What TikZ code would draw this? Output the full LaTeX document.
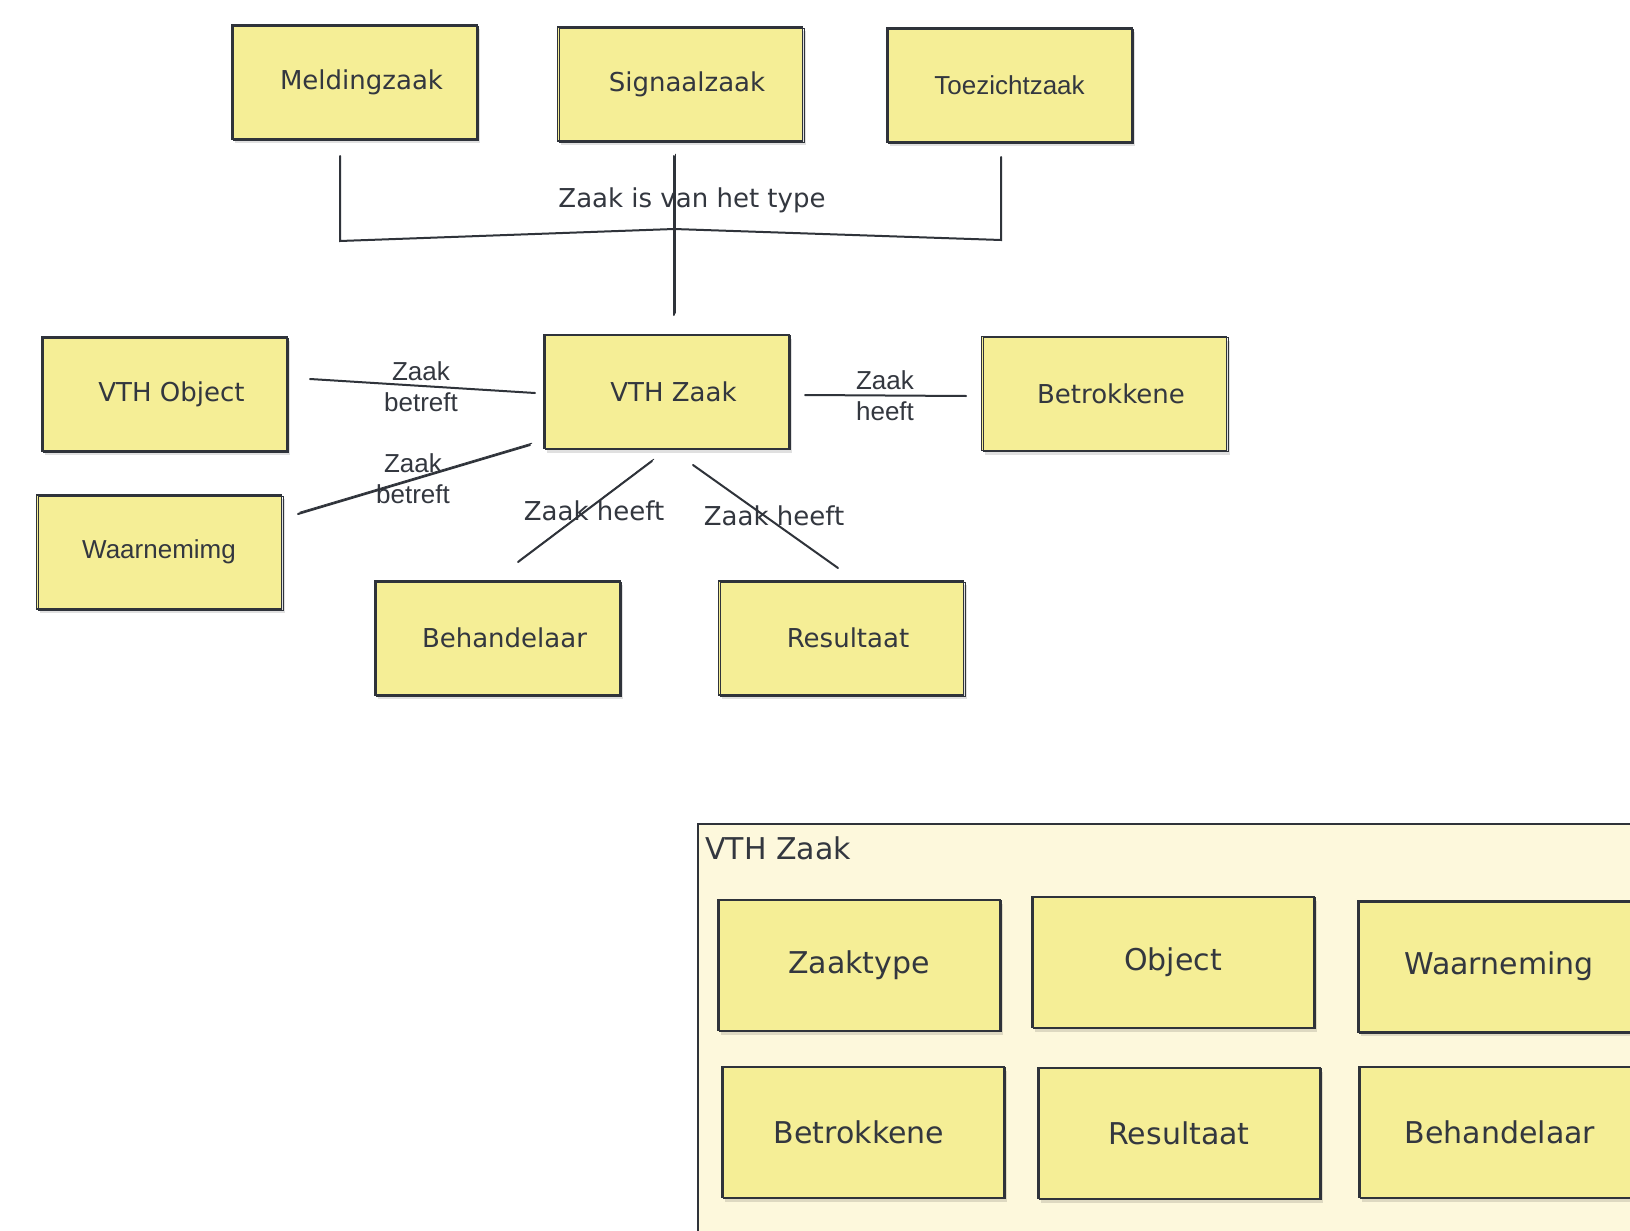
\documentclass[tikz,border=0pt]{standalone}
\usepackage{fontspec}
\setmainfont{DejaVu Sans}
\newfontfamily\arialf{Liberation Sans}
\usetikzlibrary{calc,shadows}
\definecolor{stickyfill}{HTML}{F5EE96}
\definecolor{framefill}{HTML}{FDF8DC}
\definecolor{ink}{HTML}{2F333A}
\definecolor{txt}{HTML}{33373F}
\tikzset{
  sticky/.style={draw=ink, fill=stickyfill, line width=0.9pt, text=txt,
    inner sep=0pt, font=\fontsize{13}{15}\selectfont,
    drop shadow={shadow xshift=1.5pt, shadow yshift=-2pt, opacity=0.12, fill=black},
    postaction={draw=ink, line width=0.35pt, transform canvas={shift={(0.7pt,-0.6pt)}}}},
  topbox/.style={sticky, minimum width=122.5pt, minimum height=57pt},
  shifted/.style={execute at begin node={\hspace*{7pt}}},
  bigbox/.style={sticky, minimum width=141pt, minimum height=65.5pt, font=\fontsize{15}{18}\selectfont},
  arialtext/.style={font=\arialf\fontsize{#1}{15.5}\selectfont},
  conn/.style={draw=ink, line width=1pt, line cap=round},
  sketchconn/.style={conn, postaction={draw=ink, line width=0.45pt, transform canvas={shift={(0.9pt,0.9pt)}}}},
  elabel/.style={text=txt, inner sep=0pt, align=center, font=\fontsize{13}{15.5}\selectfont},
}
\begin{document}
\begin{tikzpicture}[x=0.5pt, y=-0.5pt]
\useasboundingbox (0,0) rectangle (1630,1231);
\clip (0,0) rectangle (1630,1231);
\fill[white] (0,0) rectangle (1630,1231);

% container
\node[draw=ink, fill=framefill, line width=0.9pt, anchor=north west, inner sep=0pt,
  minimum width=480pt, minimum height=220pt] (frame) at (697,823) {};
\node[anchor=west, text=txt, inner sep=0pt, font=\fontsize{15}{18}\selectfont] (frametitle) at (705,848) {VTH Zaak};

% top row
\node[topbox, shifted] (melding) at (354.5,82) {Meldingzaak};
\node[topbox, shifted] (signaal) at (680,84) {Signaalzaak};
\node[topbox, arialtext=13] (toezicht) at (1009.5,85) {Toezichtzaak};

% middle
\node[topbox, shifted] (vthobject) at (164.5,394) {VTH Object};
\node[topbox, shifted] (vthzaak) at (666.5,391.5) {VTH Zaak};
\node[topbox, shifted] (betrokkene) at (1104,393.5) {Betrokkene};
\node[topbox, arialtext=13] (waarn) at (159,552) {Waarnemimg};
\node[topbox, shifted] (behand) at (497.5,638) {Behandelaar};
\node[topbox, shifted] (result) at (841,638) {Resultaat};

% inner boxes
\node[bigbox] (izaaktype) at (859,965) {Zaaktype};
\node[bigbox] (iobject) at (1173,962) {Object};
\node[bigbox] (iwaarn) at (1499,966.5) {Waarneming};
\node[bigbox] (ibetrok) at (863,1132) {\hspace*{-4pt}Betrokkene};
\node[bigbox] (iresult) at (1179,1133) {Resultaat};
\node[bigbox] (ibehand) at (1500,1132) {Behandelaar};

% labels
\node[elabel] (ltype) at (692,200) {Zaak is van het type};
\node[elabel, arialtext=13] (lobj) at (421,387) {Zaak\\betreft};
\node[elabel, arialtext=13] (lwaarn) at (413,479) {Zaak\\betreft};
\node[elabel, arialtext=13] (lbetr) at (885,396) {Zaak\\heeft};
\node[elabel] (lbeh) at (594,511) {Zaak heeft};
\node[elabel] (lres) at (774,516) {Zaak heeft};

% bracket coordinates
\coordinate (mtop) at (340,156);
\coordinate (jl) at (340,241);
\coordinate (jm) at (674,229);
\coordinate (jr) at (1001,240);
\coordinate (ttop) at (1001,157);
\coordinate (stop) at (674,156);
\coordinate (sbot) at (674,315);
\draw[conn] (mtop) -- (jl) -- (jm) -- (jr) -- (ttop);
\draw[sketchconn] (stop) -- (sbot);

% relation lines
\coordinate (oa) at (310,379); \coordinate (ob) at (535,393);
\coordinate (ba) at (805,395); \coordinate (bb) at (966,396);
\coordinate (wa) at (298,514); \coordinate (wb) at (530,445);
\coordinate (ha) at (652,461); \coordinate (hb) at (518,562);
\coordinate (ra) at (693,465); \coordinate (rb) at (838,568);
\draw[conn] (oa) -- (ob);
\draw[conn] (ba) -- (bb);
\draw[sketchconn] (wa) -- (wb);
\draw[sketchconn] (ha) -- (hb);
\draw[conn] (ra) -- (rb);
\end{tikzpicture}
\end{document}
